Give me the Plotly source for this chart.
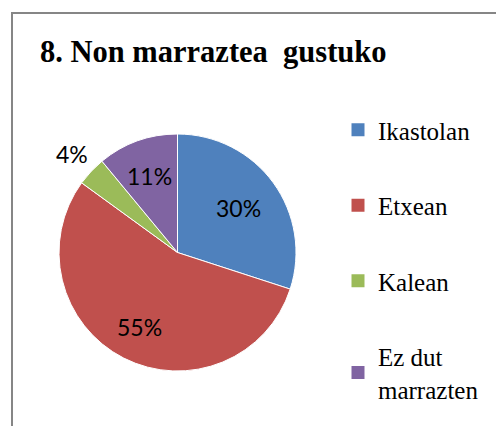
import math
import plotly.graph_objects as go

# Chart data
title_text = "8. Non marraztea  gustuko"
categories = ["Ikastolan", "Etxean", "Kalean", "Ez dut<br>marrazten"]
values = [30, 55, 4, 11]
colors = ["#4F81BD", "#C0504D", "#9BBB59", "#8064A2"]

# Distance of each percentage label from the centre, as a fraction of the radius
label_radius = [0.64, 0.71, 1.22, 0.69]

W, H = 496, 426
cx, cy, r = 177.5, 252.5, 118.5

fig = go.Figure()

fig.add_trace(go.Pie(
    labels=categories,
    values=values,
    sort=False,
    direction="clockwise",
    rotation=0,
    marker=dict(colors=colors, line=dict(color="white", width=1)),
    textinfo="none",
    showlegend=False,
    hoverinfo="label+percent",
    domain=dict(x=[(cx - r) / W, (cx + r) / W],
                y=[(H - cy - r) / H, (H - cy + r) / H]),
))

# Percentage labels placed on each slice's bisector
total = sum(values)
annotations = []
cum = 0
for v, f in zip(values, label_radius):
    mid = (cum + v / 2) / total * 2 * math.pi
    cum += v
    px = cx + f * r * math.sin(mid)
    py = cy - f * r * math.cos(mid)
    annotations.append(dict(
        text=f"{round(100 * v / total)}%", xref="paper", yref="paper",
        x=px / W, y=1 - py / H, xanchor="center", yanchor="middle",
        showarrow=False,
        font=dict(family="Lato", size=23, color="#000000"),
    ))

annotations.append(dict(
    text="<b>" + title_text + "</b>", xref="paper", yref="paper",
    x=38 / W, y=1 - 52 / H, xanchor="left", yanchor="middle",
    showarrow=False,
    font=dict(family="Liberation Serif", size=30.5, color="#000000"),
))

# Legend entries, one group each so the spacing can be controlled
for name, col in zip(categories, colors):
    fig.add_trace(go.Scatter(
        x=[None], y=[None], mode="markers", name=name, legendgroup=name,
        marker=dict(symbol="square", size=13, color=col),
    ))

fig.update_layout(
    width=W, height=H,
    margin=dict(l=0, r=0, t=0, b=0),
    paper_bgcolor="white", plot_bgcolor="white",
    xaxis=dict(visible=False), yaxis=dict(visible=False),
    legend=dict(
        x=338 / W, y=1 - 107 / H, xanchor="left", yanchor="top",
        font=dict(family="Liberation Serif", size=25, color="#000000"),
        tracegroupgap=40, itemwidth=30, bgcolor="rgba(0,0,0,0)",
    ),
    annotations=annotations,
    shapes=[
        dict(type="path", xref="paper", yref="paper",
             path=f"M {12/W} -0.05 L {12/W} {1-13/H} L 1.05 {1-13/H}",
             line=dict(color="#868686", width=2)),
    ],
)

fig.write_html("out.html")
